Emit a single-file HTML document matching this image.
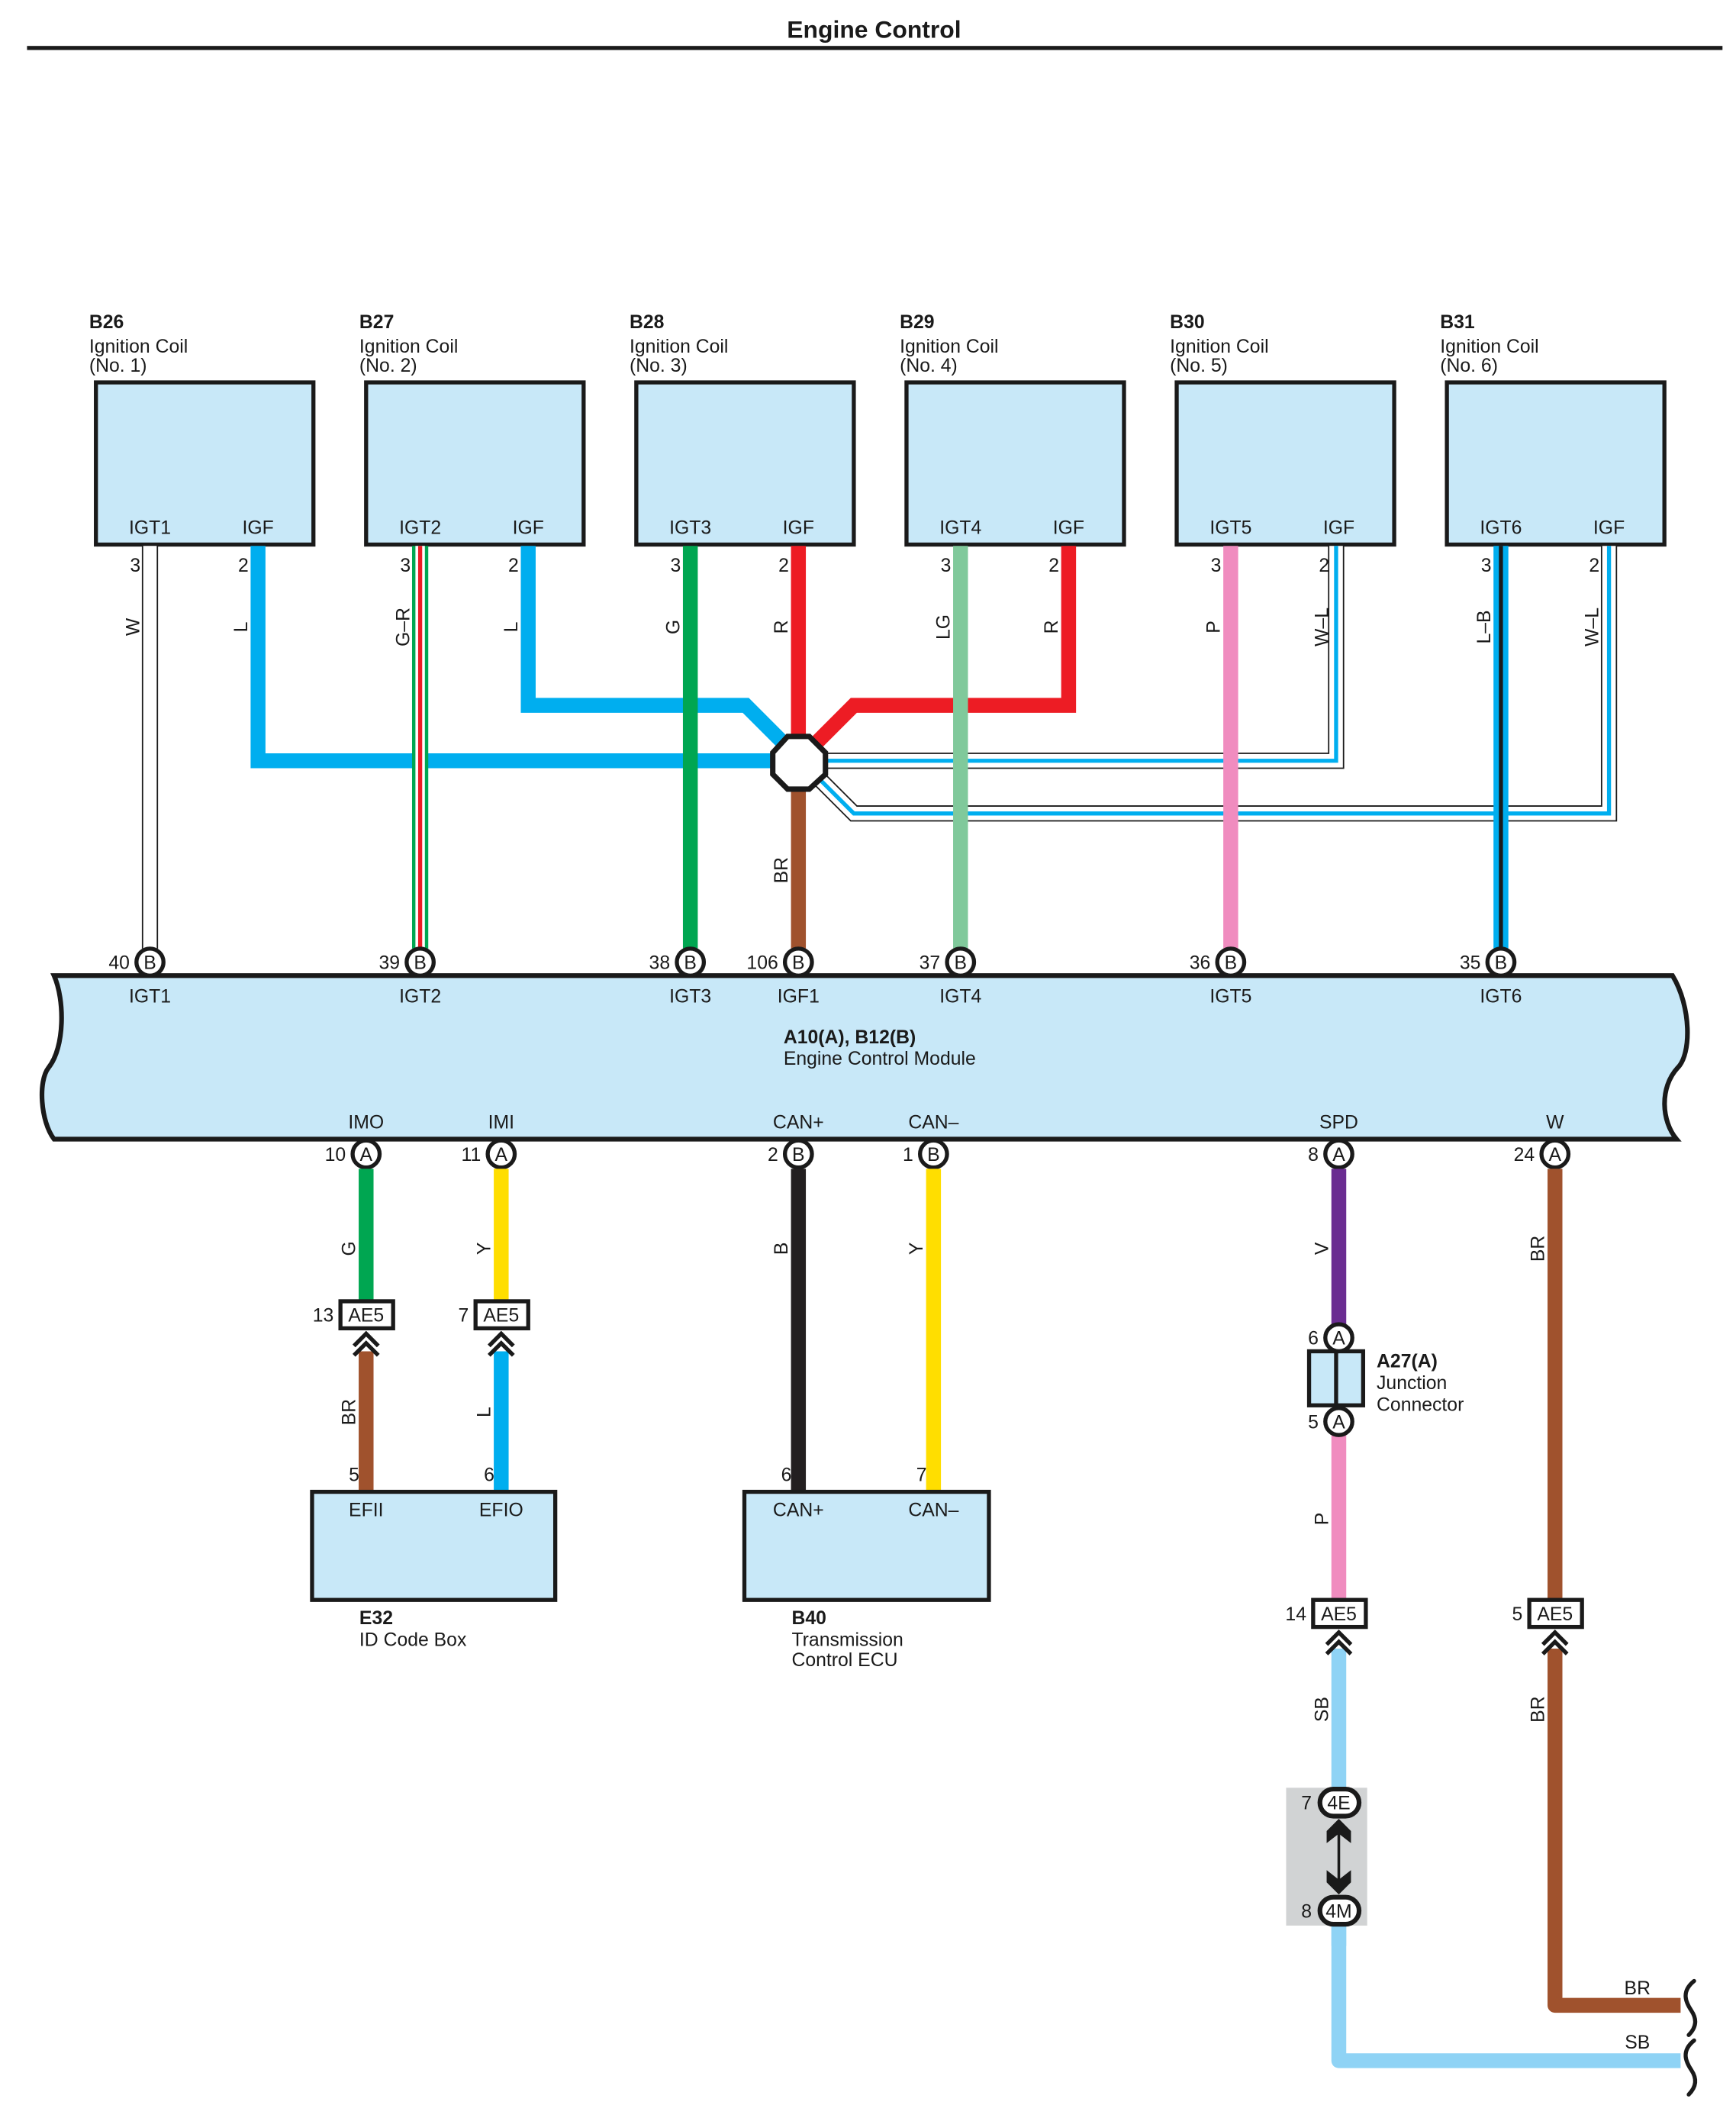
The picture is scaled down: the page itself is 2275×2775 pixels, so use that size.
<!DOCTYPE html>
<html><head><meta charset="utf-8"><style>
html,body{margin:0;padding:0;background:#fff;}
svg{display:block;}
text{font-family:"Liberation Sans",sans-serif;font-size:14px;fill:#1a1a1a;}
.b{font-weight:bold;}
</style></head><body>
<svg width="2275" height="2775" viewBox="0 0 1285 1567.4" preserveAspectRatio="none" xmlns="http://www.w3.org/2000/svg">
<text x="647" y="28" class="b" text-anchor="middle" style="font-size:18px">Engine Control</text>
<rect x="20" y="34" width="1255" height="3" fill="#1a1a1a"/>

<g stroke="#1a1a1a" stroke-width="3" fill="#c8e8f8">
<rect x="71" y="283" width="161" height="120"/>
<rect x="271" y="283" width="161" height="120"/>
<rect x="471" y="283" width="161" height="120"/>
<rect x="671" y="283" width="161" height="120"/>
<rect x="871" y="283" width="161" height="120"/>
<rect x="1071" y="283" width="161" height="120"/>
</g>
<g>
<text x="66" y="243" class="b">B26</text><text x="66" y="261">Ignition Coil</text><text x="66" y="275">(No. 1)</text>
<text x="266" y="243" class="b">B27</text><text x="266" y="261">Ignition Coil</text><text x="266" y="275">(No. 2)</text>
<text x="466" y="243" class="b">B28</text><text x="466" y="261">Ignition Coil</text><text x="466" y="275">(No. 3)</text>
<text x="666" y="243" class="b">B29</text><text x="666" y="261">Ignition Coil</text><text x="666" y="275">(No. 4)</text>
<text x="866" y="243" class="b">B30</text><text x="866" y="261">Ignition Coil</text><text x="866" y="275">(No. 5)</text>
<text x="1066" y="243" class="b">B31</text><text x="1066" y="261">Ignition Coil</text><text x="1066" y="275">(No. 6)</text>
</g>
<g text-anchor="middle">
<text x="111" y="395">IGT1</text><text x="191" y="395">IGF</text>
<text x="311" y="395">IGT2</text><text x="391" y="395">IGF</text>
<text x="511" y="395">IGT3</text><text x="591" y="395">IGF</text>
<text x="711" y="395">IGT4</text><text x="791" y="395">IGF</text>
<text x="911" y="395">IGT5</text><text x="991" y="395">IGF</text>
<text x="1111" y="395">IGT6</text><text x="1191" y="395">IGF</text>
</g>
<g text-anchor="end">
<text x="104" y="423">3</text><text x="184" y="423">2</text>
<text x="304" y="423">3</text><text x="384" y="423">2</text>
<text x="504" y="423">3</text><text x="584" y="423">2</text>
<text x="704" y="423">3</text><text x="784" y="423">2</text>
<text x="904" y="423">3</text><text x="984" y="423">2</text>
<text x="1104" y="423">3</text><text x="1184" y="423">2</text>
</g>

<g fill="none" stroke-linejoin="miter">
<line x1="111" y1="404" x2="111" y2="702" stroke="#1a1a1a" stroke-width="12"/>
<line x1="111" y1="404" x2="111" y2="702" stroke="#fff" stroke-width="10"/>
<polyline points="191,404 191,563 591,563" stroke="#00aeef" stroke-width="11"/>
<line x1="311" y1="404" x2="311" y2="702" stroke="#00a651" stroke-width="12"/>
<line x1="311" y1="404" x2="311" y2="702" stroke="#fff" stroke-width="7"/>
<line x1="311" y1="404" x2="311" y2="702" stroke="#ed1c24" stroke-width="3"/>
<polyline points="391,404 391,522 552,522 580,550" stroke="#00aeef" stroke-width="11"/>
<line x1="511" y1="404" x2="511" y2="702" stroke="#00a651" stroke-width="11"/>
<line x1="591" y1="404" x2="591" y2="550" stroke="#ed1c24" stroke-width="11"/>
<polyline points="791,404 791,522 632,522 603,551" stroke="#ed1c24" stroke-width="11"/>
<polyline points="989,404 989,563 600,563" stroke="#1a1a1a" stroke-width="12"/>
<polyline points="989,404 989,563 600,563" stroke="#fff" stroke-width="10"/>
<polyline points="989,404 989,563 600,563" stroke="#00aeef" stroke-width="3"/>
<polyline points="1191,404 1191,602 632,602 600,570" stroke="#1a1a1a" stroke-width="12"/>
<polyline points="1191,404 1191,602 632,602 600,570" stroke="#fff" stroke-width="10"/>
<polyline points="1191,404 1191,602 632,602 600,570" stroke="#00aeef" stroke-width="3"/>
<line x1="711" y1="404" x2="711" y2="702" stroke="#80c99b" stroke-width="11"/>
<line x1="911" y1="404" x2="911" y2="702" stroke="#f08cbf" stroke-width="11"/>
<line x1="1111" y1="404" x2="1111" y2="702" stroke="#00aeef" stroke-width="11"/>
<line x1="1111" y1="404" x2="1111" y2="702" stroke="#1a1a1a" stroke-width="3"/>
<line x1="591" y1="580" x2="591" y2="702" stroke="#a0522d" stroke-width="11"/>
</g>
<polygon points="583,545 599,545 611,557 611,573 599,584 583,584 572,573 572,557" fill="#fff" stroke="#1a1a1a" stroke-width="4"/>

<g>
<text transform="translate(103,464) rotate(-90)" text-anchor="middle">W</text>
<text transform="translate(183,464) rotate(-90)" text-anchor="middle">L</text>
<text transform="translate(303,464) rotate(-90)" text-anchor="middle">G–R</text>
<text transform="translate(383,464) rotate(-90)" text-anchor="middle">L</text>
<text transform="translate(503,464) rotate(-90)" text-anchor="middle">G</text>
<text transform="translate(583,464) rotate(-90)" text-anchor="middle">R</text>
<text transform="translate(703,464) rotate(-90)" text-anchor="middle">LG</text>
<text transform="translate(783,464) rotate(-90)" text-anchor="middle">R</text>
<text transform="translate(903,464) rotate(-90)" text-anchor="middle">P</text>
<text transform="translate(983,464) rotate(-90)" text-anchor="middle">W–L</text>
<text transform="translate(1103,464) rotate(-90)" text-anchor="middle">L–B</text>
<text transform="translate(1183,464) rotate(-90)" text-anchor="middle">W–L</text>
<text transform="translate(583,644) rotate(-90)" text-anchor="middle">BR</text>
</g>

<path d="M40,722 L1238,722 C1252,745 1252,780 1242,790 C1228,805 1230,830 1241,843 L40,843 C30,830 28,800 36,790 C48,775 48,740 40,722 Z" fill="#c8e8f8" stroke="#1a1a1a" stroke-width="3.5"/>
<g text-anchor="middle">
<text x="111" y="742">IGT1</text><text x="311" y="742">IGT2</text><text x="511" y="742">IGT3</text>
<text x="591" y="742">IGF1</text><text x="711" y="742">IGT4</text><text x="911" y="742">IGT5</text><text x="1111" y="742">IGT6</text>
<text x="271" y="835">IMO</text><text x="371" y="835">IMI</text><text x="591" y="835">CAN+</text><text x="691" y="835">CAN–</text>
<text x="991" y="835">SPD</text><text x="1151" y="835">W</text>
</g>
<text x="580" y="772" class="b">A10(A), B12(B)</text>
<text x="580" y="788">Engine Control Module</text>

<g fill="#fff" stroke="#1a1a1a" stroke-width="3">
<circle cx="111" cy="712" r="10"/><circle cx="311" cy="712" r="10"/><circle cx="511" cy="712" r="10"/>
<circle cx="591" cy="712" r="10"/><circle cx="711" cy="712" r="10"/><circle cx="911" cy="712" r="10"/><circle cx="1111" cy="712" r="10"/>
<circle cx="271" cy="854" r="10"/><circle cx="371" cy="854" r="10"/><circle cx="591" cy="854" r="10"/>
<circle cx="691" cy="854" r="10"/><circle cx="991" cy="854" r="10"/><circle cx="1151" cy="854" r="10"/>
</g>
<g text-anchor="middle">
<text x="111" y="717">B</text><text x="311" y="717">B</text><text x="511" y="717">B</text><text x="591" y="717">B</text>
<text x="711" y="717">B</text><text x="911" y="717">B</text><text x="1111" y="717">B</text>
<text x="271" y="859">A</text><text x="371" y="859">A</text><text x="591" y="859">B</text><text x="691" y="859">B</text>
<text x="991" y="859">A</text><text x="1151" y="859">A</text>
</g>
<g text-anchor="end">
<text x="96" y="717">40</text><text x="296" y="717">39</text><text x="496" y="717">38</text><text x="576" y="717">106</text>
<text x="696" y="717">37</text><text x="896" y="717">36</text><text x="1096" y="717">35</text>
<text x="256" y="859">10</text><text x="356" y="859">11</text><text x="576" y="859">2</text><text x="676" y="859">1</text>
<text x="976" y="859">8</text><text x="1136" y="859">24</text>
</g>

<g fill="none">
<line x1="271" y1="865" x2="271" y2="963" stroke="#00a651" stroke-width="11"/>
<line x1="271" y1="1000" x2="271" y2="1104" stroke="#a0522d" stroke-width="11"/>
<line x1="371" y1="865" x2="371" y2="963" stroke="#ffde00" stroke-width="11"/>
<line x1="371" y1="1000" x2="371" y2="1104" stroke="#00aeef" stroke-width="11"/>
<line x1="591" y1="865" x2="591" y2="1104" stroke="#231f20" stroke-width="11"/>
<line x1="691" y1="865" x2="691" y2="1104" stroke="#ffde00" stroke-width="11"/>
<line x1="991" y1="865" x2="991" y2="980" stroke="#6a2c91" stroke-width="11"/>
<line x1="991" y1="1060" x2="991" y2="1184" stroke="#f08cbf" stroke-width="11"/>
<polyline points="991,1220 991,1525 1244,1525" stroke="#8fd3f5" stroke-width="11" stroke-linejoin="round"/>
<polyline points="1151,865 1151,1184" stroke="#a0522d" stroke-width="11"/>
<polyline points="1151,1220 1151,1484 1244,1484" stroke="#a0522d" stroke-width="11" stroke-linejoin="round"/>
</g>

<g fill="#fff" stroke="#1a1a1a" stroke-width="3">
<rect x="252" y="963" width="39" height="20"/>
<rect x="352" y="963" width="39" height="20"/>
<rect x="972" y="1184" width="39" height="20"/>
<rect x="1132" y="1184" width="39" height="20"/>
</g>
<g text-anchor="middle">
<text x="271" y="978">AE5</text><text x="371" y="978">AE5</text><text x="991" y="1199">AE5</text><text x="1151" y="1199">AE5</text>
</g>
<g text-anchor="end">
<text x="247" y="978">13</text><text x="347" y="978">7</text><text x="967" y="1199">14</text><text x="1127" y="1199">5</text>
</g>
<g fill="none" stroke="#1a1a1a" stroke-width="3">
<polyline points="262,996 271,987 280,996"/><polyline points="262,1003 271,994 280,1003"/>
<polyline points="362,996 371,987 380,996"/><polyline points="362,1003 371,994 380,1003"/>
<polyline points="982,1217 991,1208 1000,1217"/><polyline points="982,1224 991,1215 1000,1224"/>
<polyline points="1142,1217 1151,1208 1160,1217"/><polyline points="1142,1224 1151,1215 1160,1224"/>
</g>

<g text-anchor="middle">
<text transform="translate(263,924) rotate(-90)">G</text>
<text transform="translate(363,924) rotate(-90)">Y</text>
<text transform="translate(263,1045) rotate(-90)">BR</text>
<text transform="translate(363,1045) rotate(-90)">L</text>
<text transform="translate(583,924) rotate(-90)">B</text>
<text transform="translate(683,924) rotate(-90)">Y</text>
<text transform="translate(983,924) rotate(-90)">V</text>
<text transform="translate(983,1124) rotate(-90)">P</text>
<text transform="translate(983,1265) rotate(-90)">SB</text>
<text transform="translate(1143,924) rotate(-90)">BR</text>
<text transform="translate(1143,1265) rotate(-90)">BR</text>
</g>
<text x="1212" y="1476" text-anchor="middle">BR</text>
<text x="1212" y="1516" text-anchor="middle">SB</text>
<g fill="none" stroke="#1a1a1a" stroke-width="3" stroke-linecap="round">
<path d="M1254,1466 C1244,1474 1248,1482 1252,1488 C1256,1494 1256,1500 1250,1506"/>
<path d="M1254,1510 C1244,1518 1248,1526 1252,1532 C1256,1538 1256,1544 1250,1550"/>
</g>

<rect x="969" y="1000" width="40" height="40" fill="#c8e8f8" stroke="#1a1a1a" stroke-width="3"/>
<line x1="989" y1="1000" x2="989" y2="1040" stroke="#1a1a1a" stroke-width="3"/>
<g fill="#fff" stroke="#1a1a1a" stroke-width="3">
<circle cx="991" cy="990" r="10"/><circle cx="991" cy="1052" r="10"/>
</g>
<text x="991" y="995" text-anchor="middle">A</text><text x="991" y="1057" text-anchor="middle">A</text>
<text x="976" y="995" text-anchor="end">6</text><text x="976" y="1057" text-anchor="end">5</text>
<text x="1019" y="1012" class="b">A27(A)</text>
<text x="1019" y="1028">Junction</text>
<text x="1019" y="1044">Connector</text>

<rect x="952" y="1323" width="60" height="102" fill="#d1d3d4"/>
<line x1="991" y1="1425" x2="991" y2="1440" stroke="#8fd3f5" stroke-width="11"/>
<g fill="#fff" stroke="#1a1a1a" stroke-width="3.5">
<rect x="977" y="1324" width="29" height="20" rx="10"/>
<rect x="977" y="1404" width="29" height="20" rx="10"/>
</g>
<text x="991" y="1339" text-anchor="middle">4E</text>
<text x="991" y="1419" text-anchor="middle">4M</text>
<text x="971" y="1339" text-anchor="end">7</text>
<text x="971" y="1419" text-anchor="end">8</text>
<line x1="991" y1="1350" x2="991" y2="1398" stroke="#1a1a1a" stroke-width="2"/>
<polygon points="991,1346 1000,1355 1000,1364 991,1357 982,1364 982,1355" fill="#1a1a1a"/>
<polygon points="991,1402 1000,1393 1000,1384 991,1391 982,1384 982,1393" fill="#1a1a1a"/>

<rect x="231" y="1104" width="180" height="80" fill="#c8e8f8" stroke="#1a1a1a" stroke-width="3"/>
<rect x="551" y="1104" width="181" height="80" fill="#c8e8f8" stroke="#1a1a1a" stroke-width="3"/>
<g text-anchor="middle">
<text x="271" y="1122">EFII</text><text x="371" y="1122">EFIO</text>
<text x="591" y="1122">CAN+</text><text x="691" y="1122">CAN–</text>
</g>
<g text-anchor="end">
<text x="266" y="1096">5</text><text x="366" y="1096">6</text><text x="586" y="1096">6</text><text x="686" y="1096">7</text>
</g>
<text x="266" y="1202" class="b">E32</text><text x="266" y="1218">ID Code Box</text>
<text x="586" y="1202" class="b">B40</text><text x="586" y="1218">Transmission</text><text x="586" y="1233">Control ECU</text>
</svg>
</body></html>
